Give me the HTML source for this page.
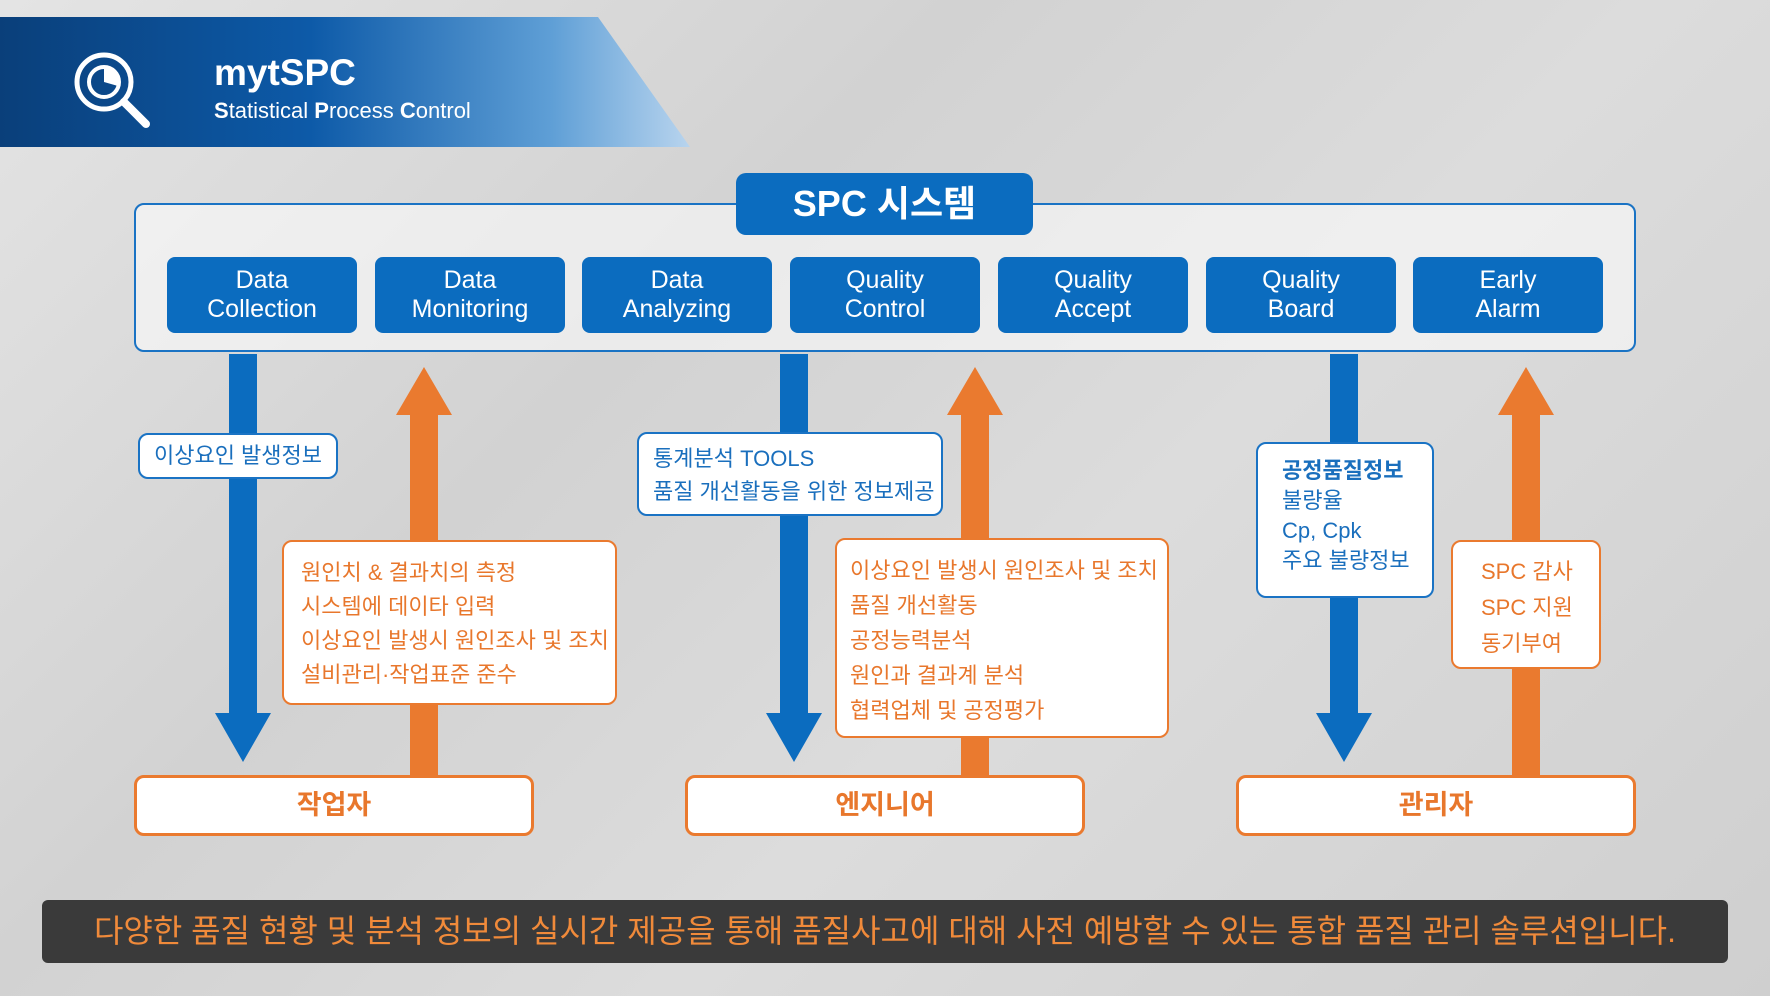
<!DOCTYPE html>
<html><head><meta charset="utf-8"><style>
*{margin:0;padding:0;box-sizing:border-box}
body{width:1770px;height:996px;overflow:hidden;position:relative;font-family:"Liberation Sans","Noto Sans CJK KR",sans-serif;background:linear-gradient(135deg,#e4e4e4 0%,#d2d2d2 35%,#dcdcdc 60%,#cfcfcf 100%)}
.a{position:absolute}
.hdr{left:0;top:17px;width:690px;height:130px;background:linear-gradient(90deg,#0a3f7a 0%,#0d5aa8 45%,#5f9fd6 80%,#b8d4ee 100%);clip-path:polygon(0 0,598px 0,690px 130px,0 130px)}
.main{left:134px;top:203px;width:1502px;height:149px;border:2px solid #1a73c4;border-radius:10px;background:rgba(255,255,255,0.55)}
.tab{left:736px;top:173px;width:297px;height:62px;background:#0b6cbf;border-radius:10px;color:#fff;font-weight:bold;font-size:36px;text-align:center;line-height:62px}
.btn{top:257px;width:190px;height:76px;background:#0b6cbf;border-radius:8px;color:#fff;font-size:25px;text-align:center;line-height:29px;padding-top:9px}
.lb{background:#fff;border:2px solid #1a73c4;border-radius:10px;color:#1a6fbd;font-size:22px}
.ob{background:#fff;border:2px solid #ea7a2f;border-radius:10px;color:#e8772c;font-size:22px;line-height:34px}
.bot{top:775px;width:400px;height:61px;background:#fff;border:3px solid #ea7a2f;border-radius:10px;color:#e8772c;font-weight:bold;font-size:27px;text-align:center;line-height:55px}
</style></head><body>
<div class="a hdr"></div>
<svg class="a" style="left:64px;top:44px" width="90" height="90" viewBox="0 0 90 90">
<circle cx="40" cy="38" r="27" fill="none" stroke="#fff" stroke-width="5"/>
<circle cx="40" cy="38" r="15" fill="none" stroke="#fff" stroke-width="4"/>
<path d="M40 38 L40 23 A15 15 0 0 1 54 42 Z" fill="#fff"/>
<line x1="60" y1="58" x2="82" y2="80" stroke="#fff" stroke-width="8" stroke-linecap="round"/>
</svg>
<div class="a" style="left:214px;top:52px;color:#fff;font-weight:bold;font-size:37px">mytSPC</div>
<div class="a" style="left:214px;top:98px;color:#fff;font-size:22px"><b>S</b>tatistical <b>P</b>rocess <b>C</b>ontrol</div>

<div class="a main"></div>
<div class="a tab">SPC 시스템</div>
<div class="a btn" style="left:167px">Data<br>Collection</div>
<div class="a btn" style="left:375px">Data<br>Monitoring</div>
<div class="a btn" style="left:582px">Data<br>Analyzing</div>
<div class="a btn" style="left:790px">Quality<br>Control</div>
<div class="a btn" style="left:998px">Quality<br>Accept</div>
<div class="a btn" style="left:1206px">Quality<br>Board</div>
<div class="a btn" style="left:1413px">Early<br>Alarm</div>

<svg class="a" style="left:0;top:0" width="1770" height="996">
<g fill="#0b6cbf">
<polygon points="229,354 257,354 257,713 271,713 243,762 215,713 229,713"/>
<polygon points="780,354 808,354 808,713 822,713 794,762 766,713 780,713"/>
<polygon points="1330,354 1358,354 1358,713 1372,713 1344,762 1316,713 1330,713"/>
</g>
<g fill="#ea7a2f">
<polygon points="410,777 438,777 438,415 452,415 424,367 396,415 410,415"/>
<polygon points="961,777 989,777 989,415 1003,415 975,367 947,415 961,415"/>
<polygon points="1512,777 1540,777 1540,415 1554,415 1526,367 1498,415 1512,415"/>
</g>
</svg>

<div class="a lb" style="left:138px;top:433px;width:200px;height:46px;line-height:42px;text-align:center">이상요인 발생정보</div>
<div class="a lb" style="left:637px;top:432px;width:306px;height:84px;padding:8px 0 0 14px;line-height:33px">통계분석 TOOLS<br>품질 개선활동을 위한 정보제공</div>
<div class="a lb" style="left:1256px;top:442px;width:178px;height:156px;padding:12px 0 0 24px;line-height:30px"><b>공정품질정보</b><br>불량율<br>Cp, Cpk<br>주요 불량정보</div>

<div class="a ob" style="left:282px;top:540px;width:335px;height:165px;padding:14px 0 0 17px">원인치 &amp; 결과치의 측정<br>시스템에 데이타 입력<br>이상요인 발생시 원인조사 및 조치<br>설비관리·작업표준 준수</div>
<div class="a ob" style="left:835px;top:538px;width:334px;height:200px;padding:13px 0 0 13px;line-height:35px">이상요인 발생시 원인조사 및 조치<br>품질 개선활동<br>공정능력분석<br>원인과 결과계 분석<br>협력업체 및 공정평가</div>
<div class="a ob" style="left:1451px;top:540px;width:150px;height:129px;padding:12px 0 0 28px;line-height:36px">SPC 감사<br>SPC 지원<br>동기부여</div>

<div class="a bot" style="left:134px">작업자</div>
<div class="a bot" style="left:685px">엔지니어</div>
<div class="a bot" style="left:1236px">관리자</div>

<div class="a" style="left:42px;top:900px;width:1686px;height:63px;background:#3a3a3a;border-radius:6px;color:#f08a3a;font-size:32px;text-align:center;line-height:63px;white-space:nowrap">다양한 품질 현황 및 분석 정보의 실시간 제공을 통해 품질사고에 대해 사전 예방할 수 있는 통합 품질 관리 솔루션입니다.</div>
</body></html>
